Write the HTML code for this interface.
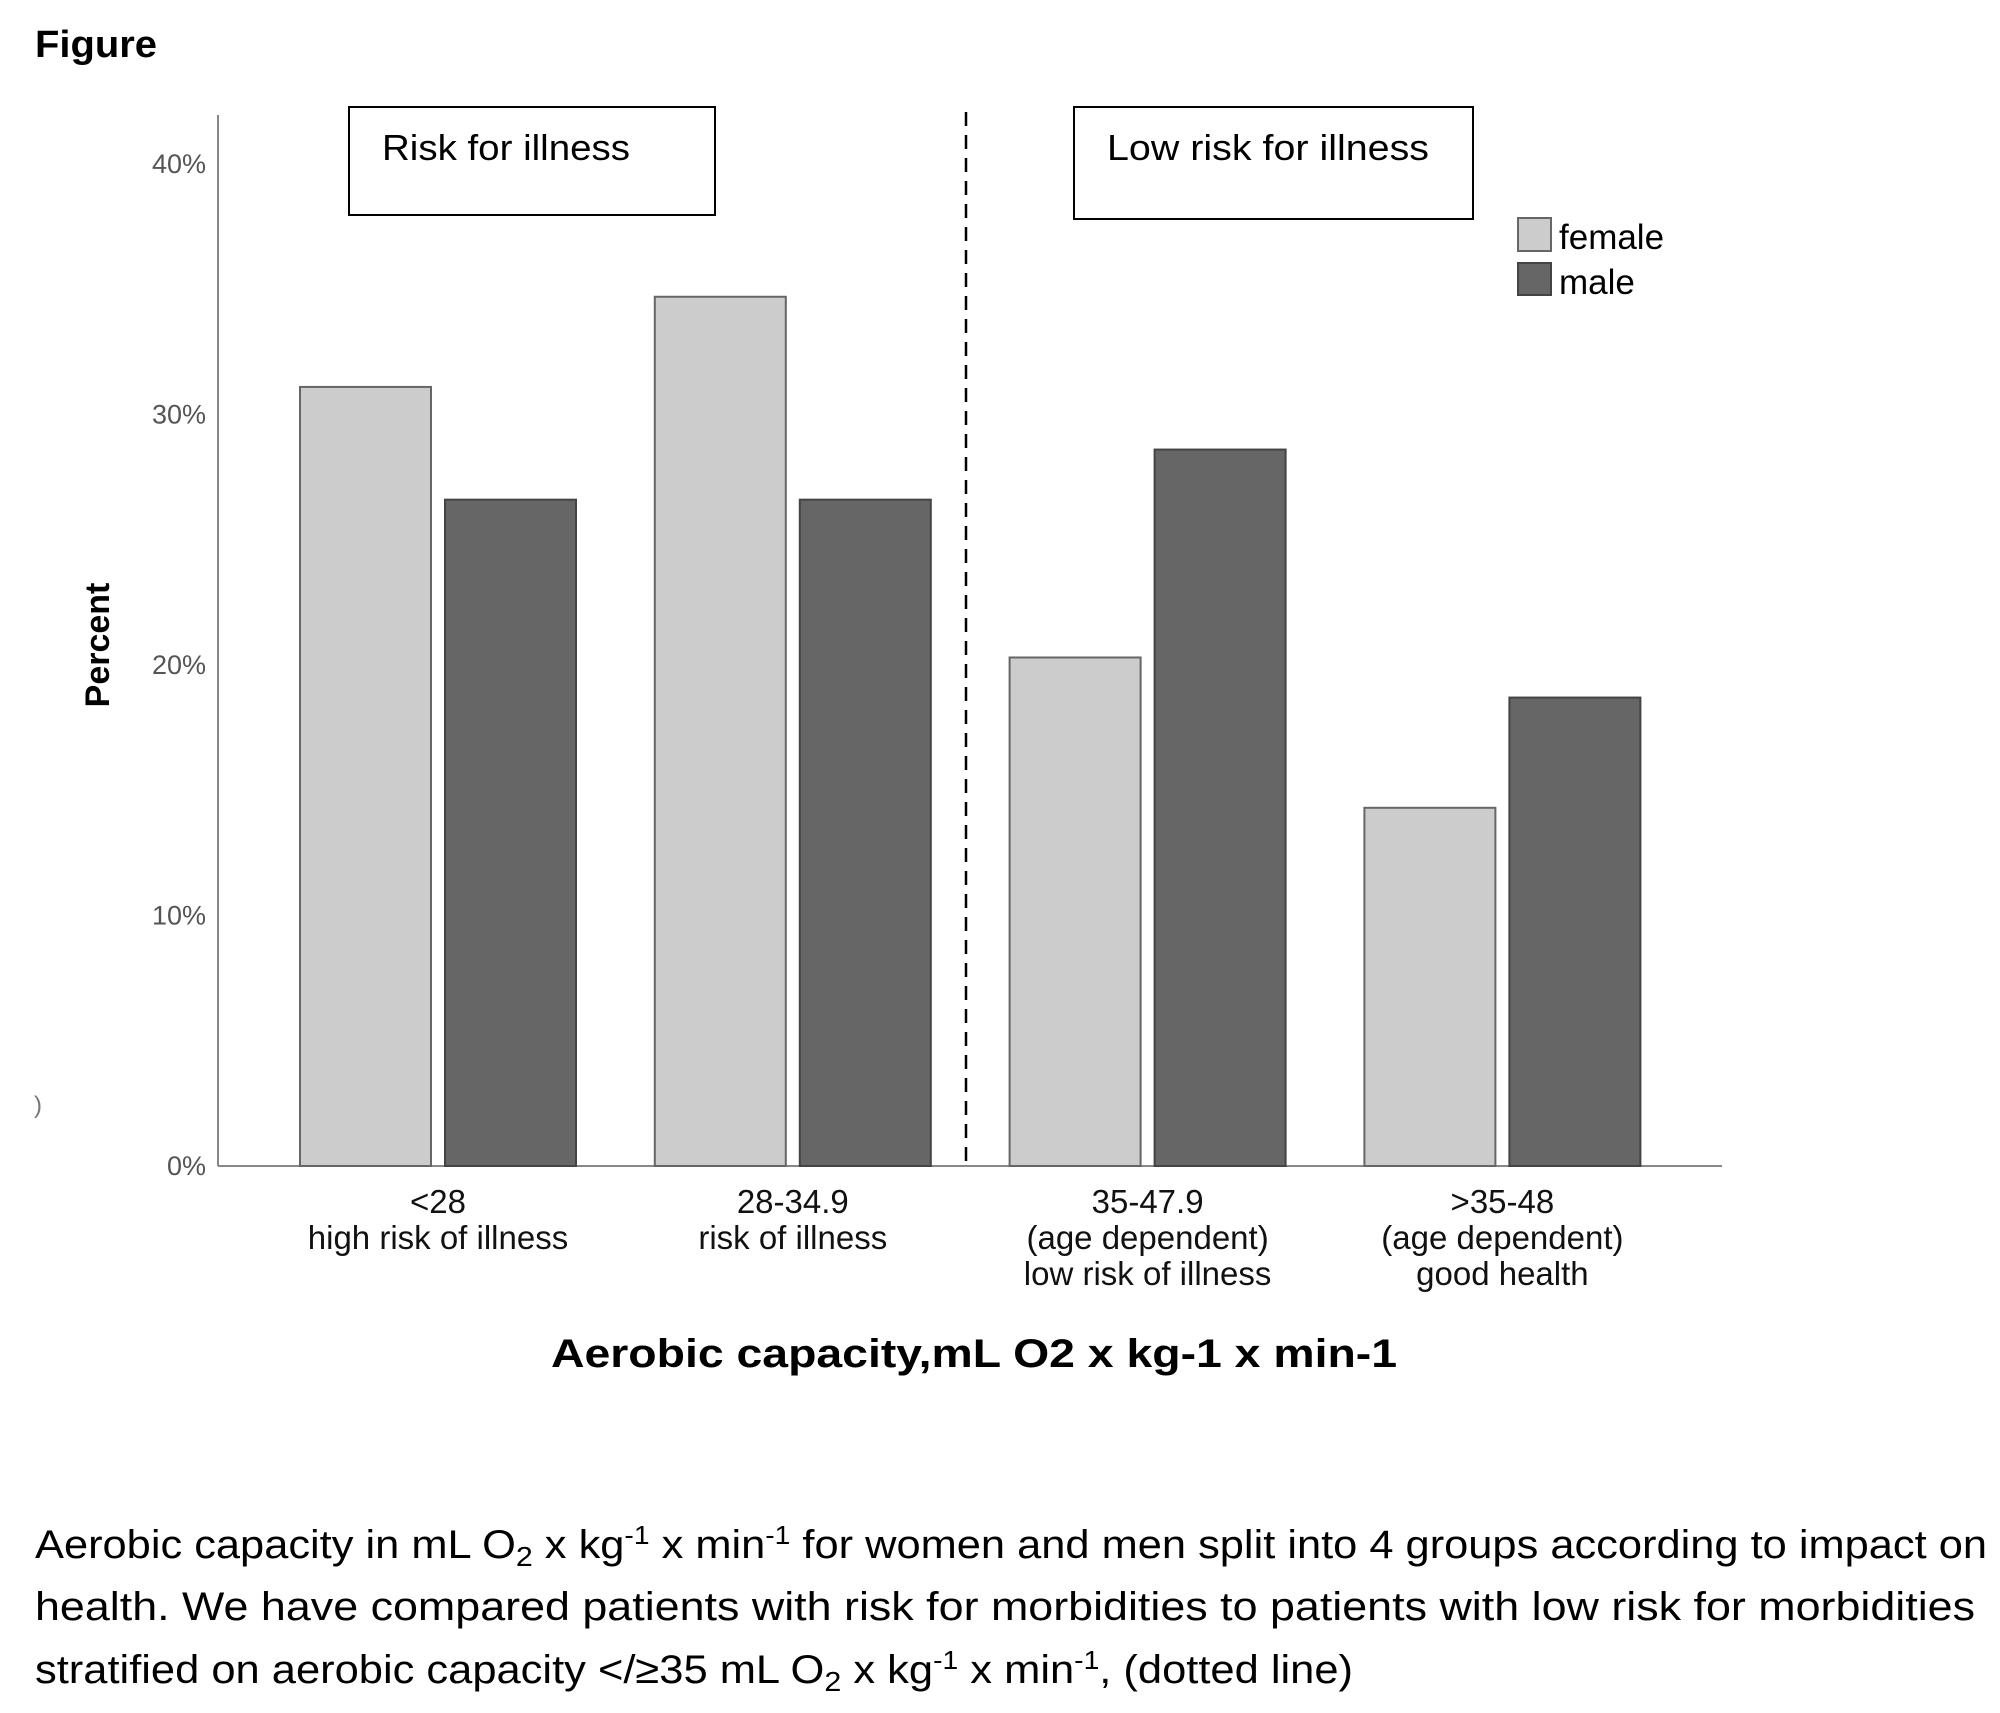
<!DOCTYPE html>
<html><head><meta charset="utf-8"><style>
html,body{margin:0;padding:0;background:#fff;}
svg{display:block;}
</style></head><body>
<svg id="chart" width="2000" height="1713" viewBox="0 0 2000 1713" xmlns="http://www.w3.org/2000/svg" font-family="'Liberation Sans', sans-serif">
<text x="35" y="57" font-size="38" font-weight="bold" textLength="122" lengthAdjust="spacingAndGlyphs">Figure</text>
<text x="34" y="1113" font-size="24" fill="#777">)</text>
<g id="plot"></g>
<rect x="349" y="107" width="366" height="108" fill="#fff" stroke="#000" stroke-width="2"/>
<text x="382" y="160" font-size="36" textLength="248" lengthAdjust="spacingAndGlyphs">Risk for illness</text>
<rect x="1074" y="107" width="399" height="112" fill="#fff" stroke="#000" stroke-width="2"/>
<text x="1107" y="160" font-size="36" textLength="322" lengthAdjust="spacingAndGlyphs">Low risk for illness</text>
<rect x="1518" y="218" width="33" height="33" fill="#cccccc" stroke="#666" stroke-width="2"/>
<text x="1559" y="249" font-size="35">female</text>
<rect x="1518" y="263" width="33" height="32" fill="#666666" stroke="#444" stroke-width="2"/>
<text x="1559" y="294" font-size="35">male</text>
<text transform="translate(109,645) rotate(-90)" text-anchor="middle" font-size="34" font-weight="bold">Percent</text>
<text x="974" y="1367" text-anchor="middle" font-size="40" font-weight="bold" textLength="846" lengthAdjust="spacingAndGlyphs">Aerobic capacity,mL O2 x kg-1 x min-1</text>
<g font-size="40">
<text x="35" y="1558" textLength="1952" lengthAdjust="spacingAndGlyphs">Aerobic capacity in mL O<tspan font-size="28" dy="8">2</tspan><tspan dy="-8"> x kg</tspan><tspan font-size="26" dy="-14">-1</tspan><tspan dy="14"> x min</tspan><tspan font-size="26" dy="-14">-1</tspan><tspan dy="14"> for women and men split into 4 groups according to impact on</tspan></text>
<text x="35" y="1620" textLength="1940" lengthAdjust="spacingAndGlyphs">health. We have compared patients with risk for morbidities to patients with low risk for morbidities</text>
<text x="35" y="1683" textLength="1318" lengthAdjust="spacingAndGlyphs">stratified on aerobic capacity &lt;/≥35 mL O<tspan font-size="28" dy="8">2</tspan><tspan dy="-8"> x kg</tspan><tspan font-size="26" dy="-14">-1</tspan><tspan dy="14"> x min</tspan><tspan font-size="26" dy="-14">-1</tspan><tspan dy="14">, (dotted line)</tspan></text>
</g>
</svg>
<script>
const categories = ["<28", "28-34.9", "35-47.9", ">35-48"];
const subLabels = [["high risk of illness"], ["risk of illness"], ["(age dependent)", "low risk of illness"], ["(age dependent)", "good health"]];
const femaleValues = [31.1, 34.7, 20.3, 14.3];
const maleValues = [26.6, 26.6, 28.6, 18.7];
const yTicks = [0, 10, 20, 30, 40];
const yTickLabels = ["0%", "10%", "20%", "30%", "40%"];

const NS = "http://www.w3.org/2000/svg";
const plot = document.getElementById("plot");
const X0 = 218, X1 = 1722, Y0 = 1166, PX_PER_PCT = 25.05;
const GROUP0 = 300, GROUP_STEP = 357.6 - 2.8, BAR_W = 131, BAR_GAP = 14;
function yScale(v){ return Y0 - v * PX_PER_PCT; }
function groupX(i){ return GROUP0 + i * GROUP_STEP; }
function mk(tag, attrs){ const e = document.createElementNS(NS, tag); for (const k in attrs) e.setAttribute(k, attrs[k]); plot.appendChild(e); return e; }

let yAxis = mk("line", {x1: X0, y1: 115, x2: X0, y2: Y0, stroke: "#888", "stroke-width": 2});


let xAxis = mk("line", {x1: X0, y1: Y0, x2: X1, y2: Y0, stroke: "#888", "stroke-width": 2});



yTicks.forEach((t, i) => {
  const lbl = mk("text", {x: 206, y: yScale(t) + 9, "text-anchor": "end", "font-size": 27, fill: "#555"});
  lbl.textContent = yTickLabels[i];
  
  
});

categories.forEach((c, i) => {
  const gx = groupX(i);
  const f = mk("rect", {x: gx, y: yScale(femaleValues[i]), width: BAR_W, height: femaleValues[i] * PX_PER_PCT, fill: "#cccccc", stroke: "#666", "stroke-width": 2});
  
  
  const m = mk("rect", {x: gx + BAR_W + BAR_GAP, y: yScale(maleValues[i]), width: BAR_W, height: maleValues[i] * PX_PER_PCT, fill: "#666666", stroke: "#444", "stroke-width": 2});
  
  
  const cx = gx + BAR_W + BAR_GAP / 2;
  const lines = [c].concat(subLabels[i]);
  lines.forEach((ln, j) => {
    const t = mk("text", {x: cx, y: 1213 + j * 36, "text-anchor": "middle", "font-size": 33, fill: "#111"});
    t.textContent = ln;
    
    
  });
});

let divider = mk("line", {x1: 966, y1: 112, x2: 966, y2: Y0, stroke: "#000", "stroke-width": 2.5, "stroke-dasharray": "14,9"});


</script>
</body></html>
